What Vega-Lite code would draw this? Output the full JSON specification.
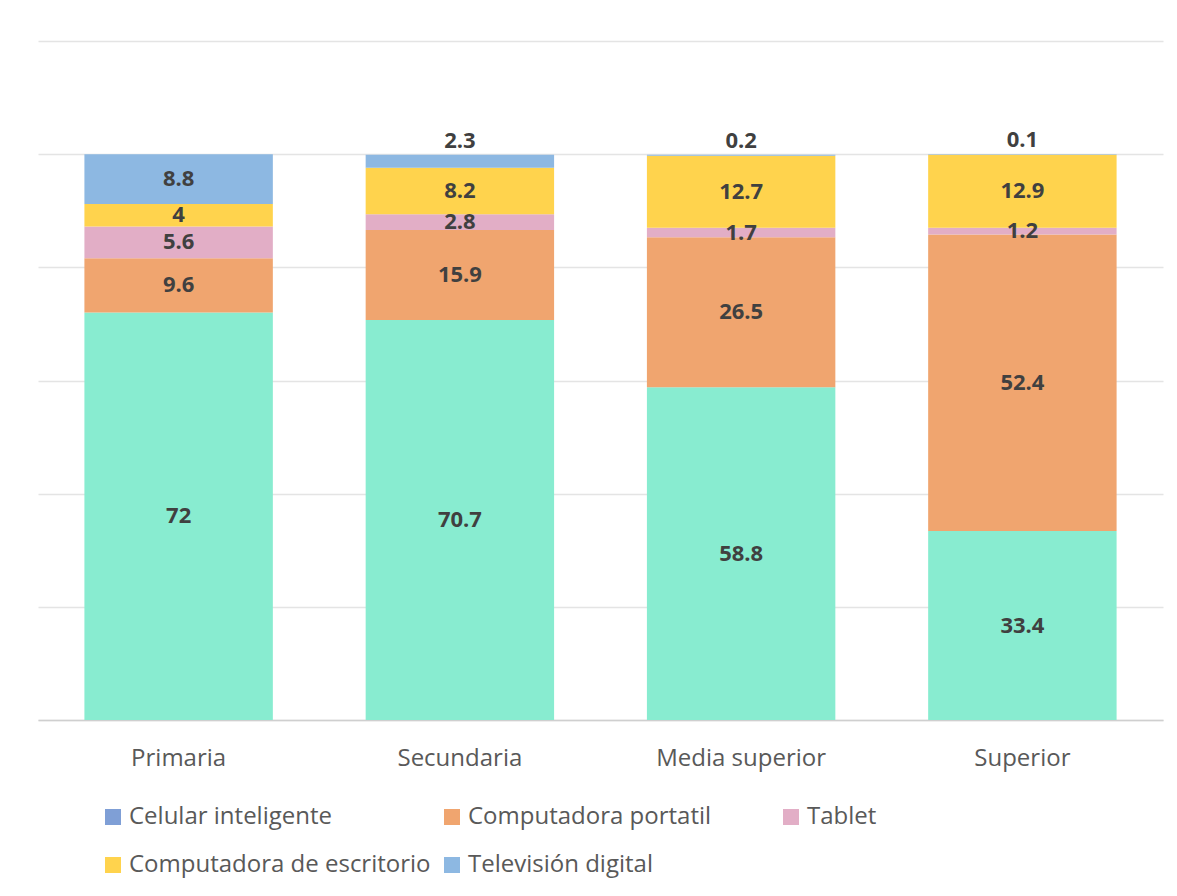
{
  "$schema": "https://vega.github.io/schema/vega-lite/v6.json",
  "width": 1125,
  "height": 679,
  "autosize": {"type": "none"},
  "padding": {"left": 38, "top": 41, "right": 14, "bottom": 176},
  "background": "white",
  "config": {"view": {"stroke": null}, "font": "Open Sans"},
  "data": {
    "values": [
      {"nivel": "Primaria", "serie": "Celular inteligente", "orden": 1, "valor": 72},
      {"nivel": "Primaria", "serie": "Computadora portatil", "orden": 2, "valor": 9.6},
      {"nivel": "Primaria", "serie": "Tablet", "orden": 3, "valor": 5.6},
      {"nivel": "Primaria", "serie": "Computadora de escritorio", "orden": 4, "valor": 4},
      {"nivel": "Primaria", "serie": "Televisión digital", "orden": 5, "valor": 8.8},
      {"nivel": "Secundaria", "serie": "Celular inteligente", "orden": 1, "valor": 70.7},
      {"nivel": "Secundaria", "serie": "Computadora portatil", "orden": 2, "valor": 15.9},
      {"nivel": "Secundaria", "serie": "Tablet", "orden": 3, "valor": 2.8},
      {"nivel": "Secundaria", "serie": "Computadora de escritorio", "orden": 4, "valor": 8.2},
      {"nivel": "Secundaria", "serie": "Televisión digital", "orden": 5, "valor": 2.3},
      {"nivel": "Media superior", "serie": "Celular inteligente", "orden": 1, "valor": 58.8},
      {"nivel": "Media superior", "serie": "Computadora portatil", "orden": 2, "valor": 26.5},
      {"nivel": "Media superior", "serie": "Tablet", "orden": 3, "valor": 1.7},
      {"nivel": "Media superior", "serie": "Computadora de escritorio", "orden": 4, "valor": 12.7},
      {"nivel": "Media superior", "serie": "Televisión digital", "orden": 5, "valor": 0.2},
      {"nivel": "Superior", "serie": "Celular inteligente", "orden": 1, "valor": 33.4},
      {"nivel": "Superior", "serie": "Computadora portatil", "orden": 2, "valor": 52.4},
      {"nivel": "Superior", "serie": "Tablet", "orden": 3, "valor": 1.2},
      {"nivel": "Superior", "serie": "Computadora de escritorio", "orden": 4, "valor": 12.9},
      {"nivel": "Superior", "serie": "Televisión digital", "orden": 5, "valor": 0.1}
    ]
  },
  "encoding": {
    "x": {
      "field": "nivel",
      "type": "nominal",
      "sort": ["Primaria", "Secundaria", "Media superior", "Superior"],
      "scale": {"paddingInner": 0.33, "paddingOuter": 0.165},
      "axis": {
        "title": null,
        "labelAngle": 0,
        "labelFontSize": 24,
        "labelColor": "#595959",
        "labelFont": "Open Sans",
        "labelPadding": 26,
        "ticks": false,
        "domainColor": "#cfcfcf",
        "domainWidth": 1.5
      }
    },
    "y": {
      "field": "valor",
      "type": "quantitative",
      "stack": "zero",
      "scale": {"domain": [0, 120], "nice": false},
      "axis": {
        "title": null,
        "labels": false,
        "ticks": false,
        "domain": false,
        "values": [0, 20, 40, 60, 80, 100, 120],
        "gridColor": "#e4e4e4",
        "gridWidth": 1.5
      }
    },
    "order": {"field": "orden", "type": "quantitative"}
  },
  "layer": [
    {
      "mark": {"type": "bar"},
      "encoding": {
        "fill": {
          "condition": {"test": "datum.serie === 'Celular inteligente'", "value": "#88ECD0"},
          "field": "serie",
          "type": "nominal",
          "scale": {
            "domain": ["Celular inteligente", "Computadora portatil", "Tablet", "Computadora de escritorio", "Televisión digital"],
            "range": ["#7F9FD6", "#F0A56F", "#E2AEC6", "#FFD34D", "#8DB8E2"]
          },
          "legend": {
            "title": null,
            "orient": "none",
            "legendX": 63,
            "legendY": 764,
            "direction": "horizontal",
            "columns": 3,
            "gridAlign": "all",
            "columnPadding": 9,
            "rowPadding": 24,
            "padding": 0,
            "symbolType": "square",
            "symbolSize": 256,
            "symbolStrokeWidth": 0,
            "symbolOpacity": 1,
            "labelOffset": 4,
            "labelFontSize": 24,
            "labelFont": "Open Sans",
            "labelColor": "#595959",
            "labelLimit": 0
          }
        }
      }
    },
    {
      "mark": {"type": "text", "fontWeight": "bold", "fontSize": 22, "color": "#404040", "font": "Open Sans", "baseline": "middle"},
      "encoding": {
        "y": {
          "field": "valor",
          "type": "quantitative",
          "stack": "zero",
          "bandPosition": 0.5,
          "scale": {"domain": [0, 120], "nice": false}
        },
        "detail": {"field": "serie"},
        "text": {
          "condition": {"test": "datum.serie === 'Televisión digital' && datum.valor < 5", "value": ""},
          "field": "valor",
          "type": "quantitative"
        }
      }
    },
    {
      "mark": {"type": "text", "fontWeight": "bold", "fontSize": 22, "color": "#404040", "font": "Open Sans", "baseline": "middle", "dy": -14},
      "encoding": {
        "detail": {"field": "serie"},
        "text": {
          "condition": {"test": "!(datum.serie === 'Televisión digital' && datum.valor < 5)", "value": ""},
          "field": "valor",
          "type": "quantitative"
        }
      }
    }
  ]
}
